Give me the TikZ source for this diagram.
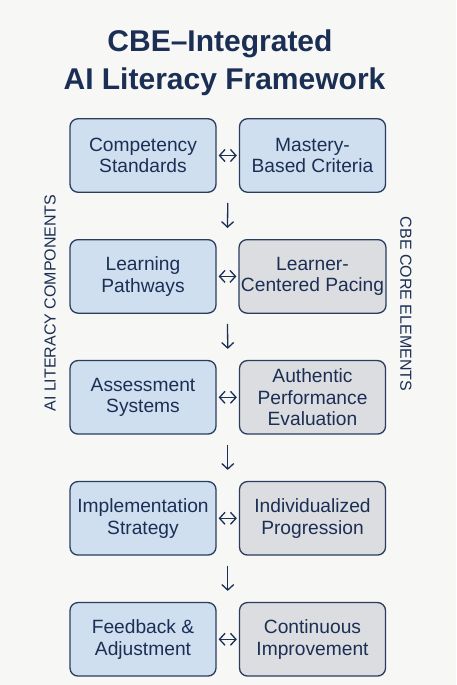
\documentclass[tikz,border=0pt]{standalone}
\usepackage{fontspec}
\setmainfont{Liberation Sans}
\usetikzlibrary{arrows.meta,calc}
\definecolor{bg}{HTML}{F7F7F5}
\definecolor{navy}{HTML}{1B2F55}
\definecolor{boxline}{HTML}{2B3D5F}
\definecolor{bluefill}{HTML}{CFDFF0}
\definecolor{greyfill}{HTML}{DCDDE0}
\begin{document}
\begin{tikzpicture}[x=1pt,y=-1pt,
  cell/.style={draw=boxline, line width=1.3pt, rounded corners=8pt,
    minimum width=146pt, minimum height=73.5pt, align=center,
    font=\fontsize{19.2}{21.5}\selectfont, text=navy, inner sep=2pt},
  comp/.style={cell, fill=bluefill},
  core/.style={cell, fill=greyfill},
  tip/.tip={Straight Barb[length=5.5pt,width=12pt]},
  link/.style={draw=navy, line width=1.3pt, tip-tip, shorten >=2pt, shorten <=2pt},
  flow/.style={draw=navy, line width=1.3pt, -tip},
  side/.style={text=navy, font=\fontsize{16}{18}\selectfont},
  heading/.style={text=navy, font=\fontsize{30}{36}\bfseries\selectfont, anchor=base}]
\useasboundingbox[fill=bg] (0,0) rectangle (456,685);

\node[heading] (t1) at (220,51.7) {CBE–Integrated};
\node[heading] (t2) at (224.5,89.3) {AI Literacy Framework};

\node[comp] (c1) at (143,155.5) {Competency\\Standards};
\node[comp] (k1) at (312.5,155.5) {Mastery-\\Based Criteria};
\node[comp] (c2) at (143,276.4) {Learning\\Pathways};
\node[core] (k2) at (312.5,276.4) {Learner-\\Centered Pacing};
\node[comp] (c3) at (143,397.3) {Assessment\\Systems};
\node[core] (k3) at (312.5,397.3) {Authentic\\Performance\\Evaluation};
\node[comp] (c4) at (143,518.3) {Implementation\\Strategy};
\node[core] (k4) at (312.5,518.3) {Individualized\\Progression};
\node[comp] (c5) at (143,639.3) {Feedback \&\\Adjustment};
\node[core] (k5) at (312.5,639.3) {Continuous\\Improvement};

\node[side, rotate=90] (sl) at (50,303) {AI LITERACY COMPONENTS};
\node[side, rotate=-90] (sr) at (406,304) {CBE CORE ELEMENTS};

\foreach \i in {1,...,5} {
  \draw[link] (c\i.east) -- (k\i.west);
}
\foreach \i/\j in {1/2,2/3,3/4,4/5} {
  \coordinate (a\i) at ($(c\i.south east)!0.5!(k\i.south west)+(0,10)$);
  \coordinate (b\i) at ($(c\j.north east)!0.5!(k\j.north west)+(0,-11)$);
  \draw[flow] (a\i) -- (b\i);
}
\end{tikzpicture}
\end{document}
